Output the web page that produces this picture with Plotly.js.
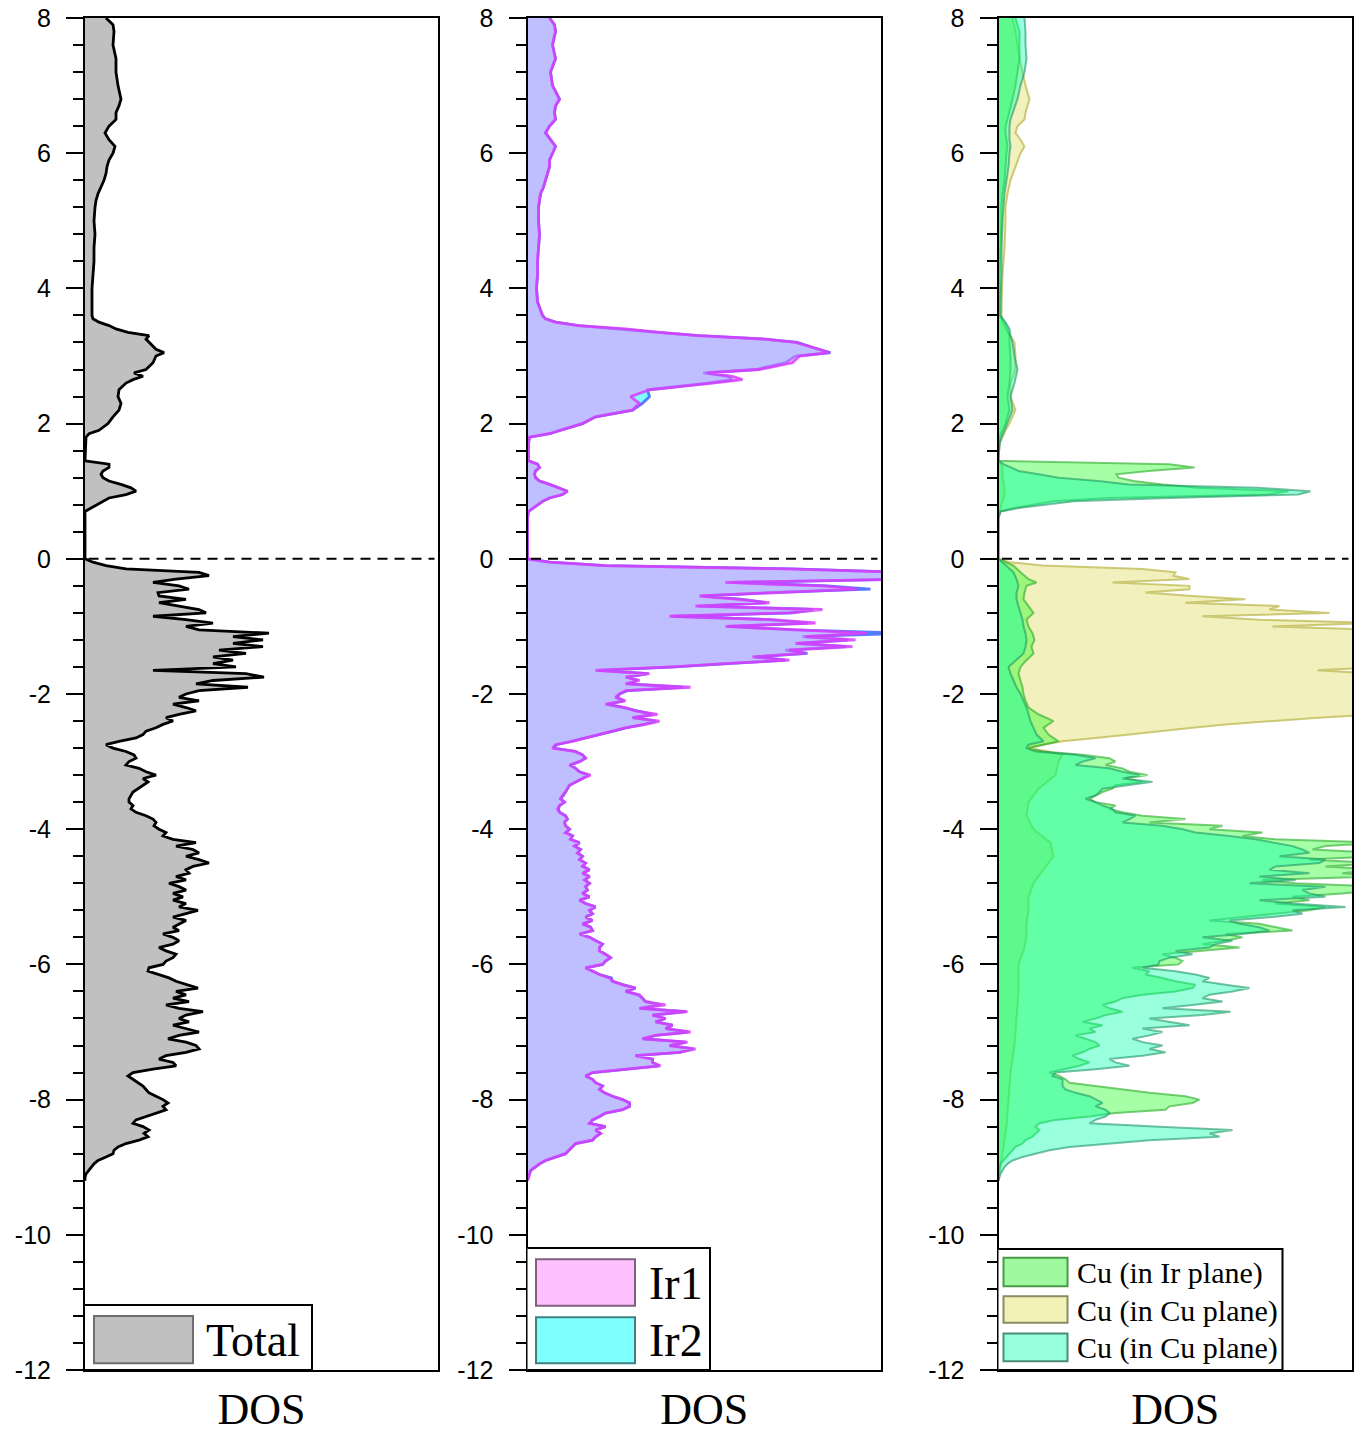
<!DOCTYPE html>
<html>
<head>
<meta charset="utf-8">
<script src="https://cdn.plot.ly/plotly-3.0.1.min.js"></script>
<style>html,body{margin:0;padding:0;background:#fff;}#chart{width:1367px;height:1437px;}</style>
</head>
<body>
<div id="chart"></div>
<script>
// ---------------- DATA (energy in eV, DOS in arbitrary units) ----------------
var energyTicks = [8, 6, 4, 2, 0, -2, -4, -6, -8, -10, -12];
var energyTickLabels = ['8', '6', '4', '2', '0', '-2', '-4', '-6', '-8', '-10', '-12'];

var energyUpper = [8,7.9,7.8,7.6,7.4,7.2,7.0, 6.8,6.7,6.6,6.5,6.4,6.3,6.2,6.1,6.0, 5.9,5.8,5.7,5.6,5.5,5.4,5.3,5.2, 5.0,4.8,4.6,4.4,4.2,4.0, 3.8,3.6,3.55,3.5,3.45,3.4,3.35,3.3,3.25,3.2, 3.1,3.05,3.0,2.9,2.8,2.75,2.7,2.65,2.6, 2.5,2.4,2.3,2.2,2.1,2.0, 1.9,1.85,1.8,1.7,1.6,1.5,1.45, 1.4,1.35,1.3,1.25,1.2,1.15,1.1,1.05,1.0, 0.95,0.9,0.85,0.8,0.75,0.7,0.6,0.0];

var energyNeg = [-0.05,-0.1,-0.15,-0.2,-0.25,-0.3,-0.35,-0.4,-0.45,-0.5,
-0.55,-0.6,-0.65,-0.7,-0.75,-0.8,-0.85,-0.9,-0.95,-1.0,
-1.05,-1.1,-1.15,-1.2,-1.25,-1.3,-1.35,-1.4,-1.45,-1.5,
-1.55,-1.6,-1.65,-1.7,-1.75,-1.8,-1.85,-1.9,-1.95,-2.0,
-2.05,-2.1,-2.15,-2.2,-2.25,-2.3,-2.35,-2.4,-2.45,-2.5,
-2.55,-2.6,-2.65,-2.7,-2.75,-2.8,-2.85,-2.9,-2.95,-3.0,
-3.05,-3.1,-3.15,-3.2,-3.25,-3.3,-3.35,-3.4,-3.45,-3.5,
-3.55,-3.6,-3.65,-3.7,-3.75,-3.8,-3.85,-3.9,-3.95,-4.0,
-4.05,-4.1,-4.15,-4.2,-4.25,-4.3,-4.35,-4.4,-4.45,-4.5,
-4.55,-4.6,-4.65,-4.7,-4.75,-4.8,-4.85,-4.9,-4.95,-5.0,
-5.05,-5.1,-5.15,-5.2,-5.25,-5.3,-5.35,-5.4,-5.45,-5.5,
-5.55,-5.6,-5.65,-5.7,-5.75,-5.8,-5.85,-5.9,-5.95,-6.0,
-6.05,-6.1,-6.15,-6.2,-6.25,-6.3,-6.35,-6.4,-6.45,-6.5,
-6.55,-6.6,-6.65,-6.7,-6.75,-6.8,-6.85,-6.9,-6.95,-7.0,
-7.05,-7.1,-7.15,-7.2,-7.25,-7.3,-7.35,-7.4,-7.45,-7.5,
-7.55,-7.6,-7.65,-7.7,-7.75,-7.8,-7.85,-7.9,-7.95,-8.0,
-8.05,-8.1,-8.15,-8.2,-8.25,-8.3,-8.35,-8.4,-8.45,-8.5,
-8.55,-8.6,-8.65,-8.7,-8.75,-8.8,-8.85,-8.9,-8.95,-9.0,
-9.05,-9.1,-9.15,-9.2];

var cuEnergyUpper = [8,7.8,7.6,7.4,7.2,7.0, 6.8,6.6,6.5,6.4,6.3,6.2,6.1,6.0, 5.8,5.6,5.4,5.2,5.0, 4.6,4.2,3.8,3.6,3.5,3.4,3.3,3.2,3.0, 2.8,2.6,2.4,2.2,2.0,1.9,1.8,1.7,1.5,1.45, 1.4,1.35,1.3,1.25,1.2,1.15,1.1,1.05,1.0, 0.95,0.9,0.85,0.8,0.75,0.7,0.6,0.0];
var cuEnergyNegHead = [-0.1,-0.2,-0.3,-0.35,-0.4,-0.5,-0.6,-0.7,-0.8,-0.9,-1.0,-1.1,-1.2,-1.3,-1.4,-1.5,-1.6,-1.7,-1.8,-1.9,-2.0,-2.1,-2.2,-2.3,-2.4,-2.5,-2.6,-2.7,-2.75,-2.8];
var cu2EnergyTail = [-2.85,-2.9,-3.0,-3.2,-3.4,-3.6,-3.8,-4.0,-4.2,-4.4,-4.6,-4.8,-5.0,-5.2,-5.4,-5.6,-5.8,-6.0,-6.4,-6.8,-7.2,-7.6,-8.0,-8.4,-8.8,-9.2];

// Total DOS
var dosTotalUpper = [21,28,29,28,31,31,33, 36,34,31,31,24,20,24,30,28, 24,22,21,19,16,13,11,10, 9,10,9,9,8,7, 7,7,8,14,24,31,43,64,61,64, 71,79,71,68,61,49,58,48,41, 34,33,36,34,28,23, 14,4,1,0.5,0,0,0, 24,24,18,16,18,24,36,46,51, 41,24,18,13,6,0,0,0];
var dosTotalNeg = [8,21,41,114,124,91,68,94,104,73,
74,101,74,94,114,121,68,101,128,101,
114,184,148,178,148,178,134,161,128,148,
128,151,68,161,179,128,111,163,114,101,
94,114,88,101,111,94,81,88,78,71,
61,58,51,34,21,28,41,49,51,44,
41,54,61,71,58,63,58,54,48,46,
44,44,48,46,51,61,68,71,69,74,
81,78,88,111,91,108,114,101,114,124,
108,101,104,91,101,84,94,101,88,98,
88,101,94,113,101,88,101,94,88,94,
78,88,94,88,74,81,91,88,81,78,
64,63,74,84,91,101,113,91,101,88,
104,81,94,118,101,94,104,88,101,114,
94,83,101,111,114,101,81,74,88,91,
68,48,43,48,54,58,61,64,71,78,
83,78,81,71,61,51,48,58,64,59,
63,54,41,33,29,28,21,13,9,6,
3,1,0,0];

// Ir1 / Ir2 DOS
var dosIr1Upper = [22,27,28,25,28,23,25, 32,28,27,28,22,18,23,28,25, 22,22,20,18,16,13,12,11, 11,12,11,10,10,9, 10,15,18,28,52,98,132,172,238,268, 292,302,272,265,232,180,205,215,185, 122,103,112,105,68,55, 32,22,2,1,1,1,1, 10,12,8,7,8,12,22,32,40, 35,22,15,10,5,1,0,0];
var dosIr1Neg = [22,78,260,380,380,380,198,295,330,245,
172,212,242,168,295,262,142,245,288,198,
262,340,278,328,268,325,262,278,225,262,
198,145,68,122,98,112,98,163,98,92,
88,98,78,98,108,130,105,132,118,98,
85,72,58,45,28,25,48,55,58,52,
42,48,52,63,55,48,42,40,38,35,
33,37,32,30,32,38,40,37,38,42,
38,45,43,52,47,53,50,55,52,58,
55,62,55,62,57,62,58,60,55,62,
52,58,68,62,65,58,65,55,63,65,
52,62,68,75,72,72,78,83,78,75,
58,65,72,82,85,95,108,98,112,115,
118,138,112,160,125,138,128,145,138,163,
128,115,160,142,168,152,108,125,125,133,
98,65,58,65,68,75,72,77,85,95,
102,102,95,78,72,65,62,78,68,73,
68,65,48,45,42,38,28,18,12,7,
3,2,1,0];
var dosIr2Upper = [22,27,28,25,28,23,25, 32,28,27,28,22,18,23,28,25, 22,22,20,18,16,13,12,11, 11,12,11,10,10,9, 10,15,18,28,50,95,130,170,236,270, 290,303,268,258,228,176,200,205,180, 120,122,115,105,68,55, 32,22,2,1,1,1,1, 10,12,8,7,8,12,22,32,40, 35,22,15,10,5,1,0,0];
var dosIr2Neg = [22,78,265,380,380,380,205,300,343,240,
175,215,238,170,285,265,145,240,280,200,
265,380,275,320,270,318,258,280,228,258,
200,148,70,120,100,110,100,155,100,92,
90,96,80,96,110,125,105,128,116,98,
86,72,58,45,29,26,47,55,58,52,
43,48,52,60,55,48,42,40,38,36,
33,37,32,31,32,38,40,37,38,42,
38,45,43,52,47,53,50,55,52,58,
55,62,55,62,57,62,58,60,55,62,
52,58,68,62,65,58,65,55,63,65,
52,62,68,75,72,72,78,83,78,75,
58,65,72,84,85,95,108,98,110,115,
118,132,112,158,125,138,128,145,138,160,
128,115,158,142,165,152,108,125,125,131,
98,65,58,65,68,75,72,77,85,95,
102,102,95,78,72,65,62,78,68,73,
68,65,48,45,42,38,28,18,12,7,
3,2,1,0];

// Cu (in Ir plane)
var dosCu1Upper = [17,21,21,21,19,17, 14,11,9,7,7,8,9,8, 7,6,4,3,3, 2,1,1,1,6,9,11,11,12, 12,11,9,11,7,4,1,1,0,0, 171,196,150,118,120,135,164,200,290, 270,110,55,35,15,2,0,0];
var dosCu1Neg = [15,22,30,38,28,26,25,30,35,28,30,34,36,33,35,28,22,20,22,24,25,27,30,40,55,45,50,60,45,30,
44,84,111,117,107,124,131,149,127,144,
117,114,104,97,91,97,117,111,124,144,
187,151,224,211,264,244,277,380,327,314,
380,380,311,380,327,380,344,380,264,297,
380,380,344,294,311,277,327,311,277,244,
211,261,277,294,227,244,227,204,241,204,
164,177,184,180,134,151,147,164,177,197,
194,177,144,124,117,104,111,124,107,97,
84,104,91,97,77,87,97,101,91,84,
74,81,91,81,67,51,61,67,71,97,
121,151,187,201,194,171,167,117,91,57,
41,37,41,37,34,27,24,17,14,11,
7,4,2,1,1,0,0,0];

// Cu (in Cu plane) - yellow
var dosCu2Upper = [14,17,19,21,24,27, 31,27,26,19,17,22,26,22, 17,12,9,7,7, 6,4,3,3,4,7,12,16,17, 17,12,12,17,11,7,4,1,0,0, 3,4,4,4,4,5,5,6,6, 6,5,4,3,2,1,0,0];
var dosCu2Neg = [11,44,144,177,175,191,114,191,191,147,
194,247,187,281,271,331,204,261,380,274,
380,380,380,380,380,380,380,380,380,380,
380,380,319,380,380,380,380,380,380,380,
380,380,380,380,380,380,320,277,227,194,
164,131,97,64,44,30];
var dosCu2Tail = [50,64,60,57,40,30,28,35,52,55,45,35,30,30,28,28,25,20,20,18,16,12,10,8,4,0];

// Cu (in Cu plane) - aquamarine
var dosCu3Upper = [26,27,27,28,26,22, 19,14,12,11,11,11,12,11, 10,8,6,5,4, 3,3,2,2,7,11,12,14,16, 19,16,12,14,9,6,3,1,0,0, 5,12,20,40,60,100,130,260,312, 300,170,75,50,20,2,0,0];
var dosCu3Neg = [8,15,18,19,20,18,18,20,22,24,25,27,28,27,25,18,10,12,15,18,22,25,28,30,32,35,38,45,30,28,
37,77,97,84,77,111,124,141,124,154,
131,104,101,97,87,97,104,114,117,137,
131,124,164,184,197,231,257,277,294,304,
311,281,327,321,277,271,311,261,297,251,
327,304,311,327,261,294,347,294,304,274,
231,241,261,271,244,204,234,217,211,177,
194,171,161,160,144,177,197,211,204,227,
251,234,211,204,224,194,164,232,204,151,
171,191,144,164,151,134,144,164,151,167,
144,111,117,131,97,57,54,64,64,64,
67,77,91,97,104,97,107,111,107,97,
91,161,234,211,221,151,111,71,51,37,
24,14,9,6,4,2,1,0];

var legendLabels = {total: 'Total', ir1: 'Ir1', ir2: 'Ir2', cu1: 'Cu (in Ir plane)', cu2: 'Cu (in Cu plane)', cu3: 'Cu (in Cu plane)'};
var axisTitle = 'DOS';

// ---------------- BUILD ----------------
var eTotal = energyUpper.concat(energyNeg);
var eCu13 = cuEnergyUpper.concat(cuEnergyNegHead, energyNeg.slice(56));
var eCu2 = cuEnergyUpper.concat(energyNeg.slice(0, 56), cu2EnergyTail);

function tr(x, y, xa, ya, fillc, linec, lw, name) {
  return {type: 'scatter', mode: 'lines', x: x, y: y, xaxis: xa, yaxis: ya, name: name,
    fill: 'tozerox', fillcolor: fillc, line: {color: linec, width: lw, shape: 'linear'},
    showlegend: false, hoverinfo: 'skip'};
}

var traces = [
  tr(dosTotalUpper.concat(dosTotalNeg), eTotal, 'x', 'y', '#c0c0c0', '#000000', 2.8, legendLabels.total),
  tr(dosIr2Upper.concat(dosIr2Neg), eTotal, 'x2', 'y2', 'rgba(0,255,255,0.5)', 'rgba(70,110,255,0.9)', 2.8, legendLabels.ir2),
  tr(dosIr1Upper.concat(dosIr1Neg), eTotal, 'x2', 'y2', 'rgba(255,128,255,0.5)', 'rgba(215,60,255,0.85)', 2.8, legendLabels.ir1),
  tr(dosCu2Upper.concat(dosCu2Neg, dosCu2Tail), eCu2, 'x3', 'y3', 'rgba(222,218,90,0.4)', 'rgba(180,175,60,0.65)', 2, legendLabels.cu2),
  tr(dosCu1Upper.concat(dosCu1Neg), eCu13, 'x3', 'y3', 'rgba(0,255,0,0.35)', 'rgba(40,170,40,0.6)', 2, legendLabels.cu1),
  tr(dosCu3Upper.concat(dosCu3Neg), eCu13, 'x3', 'y3', 'rgba(0,255,170,0.4)', 'rgba(30,150,100,0.6)', 2, legendLabels.cu3)
];

var W = 1367;
function xax(l, r) {
  return {domain: [l / W, r / W], range: [0, r - l], showticklabels: false, ticks: '', showgrid: false,
    zeroline: false, showline: true, mirror: true, linewidth: 2, linecolor: '#000', fixedrange: true,
    title: {text: axisTitle, font: {family: 'Liberation Serif, Times New Roman, serif', size: 44, color: '#000'}, standoff: 22}};
}
function yax(anchor) {
  return {domain: [0, 1], range: [-12, 8], anchor: anchor, tickmode: 'array', tickvals: energyTicks, ticktext: energyTickLabels,
    ticks: 'outside', ticklen: 17,
    tickwidth: 2, tickcolor: '#000', showgrid: false, zeroline: false, showline: true, mirror: true,
    linewidth: 2, linecolor: '#000', ticklabelstandoff: 10, fixedrange: true,
    tickfont: {family: 'Liberation Sans, Arial, sans-serif', size: 25, color: '#000'},
    minor: {tickmode: 'linear', tick0: 0, dtick: 0.4, ticks: 'outside', ticklen: 10, tickwidth: 2, tickcolor: '#000', showgrid: false}};
}

var shapes = [];
var annotations = [];
[['x', 'y'], ['x2', 'y2'], ['x3', 'y3']].forEach(function (p) {
  shapes.push({type: 'line', xref: p[0] + ' domain', yref: p[1], x0: 0.01, x1: 0.99, y0: 0, y1: 0,
    line: {color: '#000', width: 2, dash: '10px,7px'}, layer: 'above'});
});

function box(xa, ya, x0, x1, y0, y1, fill, lc) {
  shapes.push({type: 'rect', xref: xa, yref: ya, x0: x0, x1: x1, y0: y0, y1: y1,
    fillcolor: fill, line: {color: lc, width: 2}, layer: 'above'});
}
function label(xa, ya, x, y, text, size) {
  annotations.push({xref: xa, yref: ya, x: x, y: y, text: text, showarrow: false, xanchor: 'left', yanchor: 'middle',
    font: {family: 'Liberation Serif, Times New Roman, serif', size: size, color: '#000'}});
}
// Legend panel 1
box('x', 'y', -2, 227, -12, -11.04, '#ffffff', '#000');
box('x', 'y', 9, 108, -11.2, -11.9, '#c0c0c0', '#6e6e6e');
label('x', 'y', 119, -11.56, legendLabels.total, 46);
// Legend panel 2
box('x2', 'y2', -1.5, 182.5, -12, -10.195, '#ffffff', '#000');
box('x2', 'y2', 8.5, 107.5, -10.36, -11.05, '#ffc0ff', '#806080');
box('x2', 'y2', 8.5, 107.5, -11.22, -11.9, '#80ffff', '#408080');
label('x2', 'y2', 119, -10.72, legendLabels.ir1, 46);
label('x2', 'y2', 119, -11.57, legendLabels.ir2, 46);
// Legend panel 3
box('x3', 'y3', -2, 284, -12, -10.21, '#ffffff', '#000');
box('x3', 'y3', 5, 69, -10.34, -10.76, '#9ef99e', '#4a9a4a');
box('x3', 'y3', 5, 69, -10.91, -11.3, '#f3f2b6', '#8a8a64');
box('x3', 'y3', 5, 69, -11.46, -11.87, '#98ffdc', '#4a8c74');
label('x3', 'y3', 76, -10.57, legendLabels.cu1, 30);
label('x3', 'y3', 76, -11.12, legendLabels.cu2, 30);
label('x3', 'y3', 76, -11.67, legendLabels.cu3, 30);

var layout = {
  width: 1367, height: 1437,
  margin: {l: 0, r: 0, t: 18, b: 67, pad: 0},
  paper_bgcolor: '#ffffff', plot_bgcolor: '#ffffff',
  showlegend: false,
  xaxis: xax(85, 438), yaxis: yax('x'),
  xaxis2: xax(527.5, 881), yaxis2: yax('x2'),
  xaxis3: xax(998.5, 1352), yaxis3: yax('x3'),
  shapes: shapes, annotations: annotations
};
layout.xaxis.anchor = 'y';
layout.xaxis2.anchor = 'y2';
layout.xaxis3.anchor = 'y3';

Plotly.newPlot('chart', traces, layout, {displayModeBar: false, staticPlot: true});
</script>
</body>
</html>
